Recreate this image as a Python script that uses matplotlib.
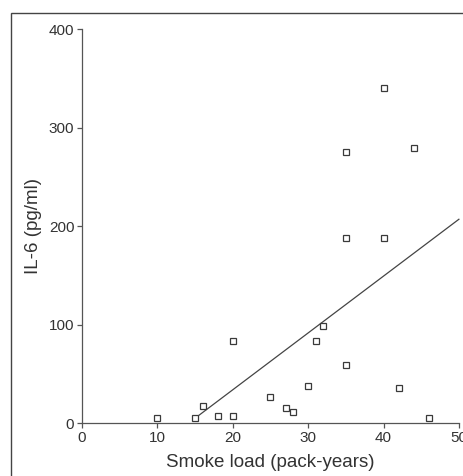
import numpy as np
import matplotlib
matplotlib.use("Agg")
import matplotlib.pyplot as plt
from matplotlib.patches import Rectangle

# smoke load (pack-years) vs IL-6 (pg/ml)
smoke_load = [10, 15, 16, 18, 20, 20, 25, 27, 28, 30, 31, 32, 35, 35, 35, 40, 40, 42, 44, 46]
il6 = [5, 5, 17, 7, 83, 7, 26, 15, 11.5, 38, 83, 98, 59, 188, 275, 340, 188, 36, 279, 5]
x_ticks = [0, 10, 20, 30, 40, 50]
y_ticks = [0, 100, 200, 300, 400]
fit_range = [15, 50]

plt.rcParams['font.family'] = ['Liberation Sans', 'DejaVu Sans']
ink = '#333333'

fig = plt.figure(figsize=(4.64, 4.76), dpi=100)
ax = fig.add_axes([0.1767, 0.1113, 0.8123, 0.8277])

# frame around the panel (right and bottom edges are cut off)
fig.patches.append(Rectangle((11 / 464, -0.1), 1.2, 1 - 13 / 476 + 0.1,
                             transform=fig.transFigure, fill=False,
                             edgecolor='#444444', linewidth=1.0))

ax.plot(smoke_load, il6, 's', markersize=4.3, markerfacecolor='white',
        markeredgecolor='#3a3a3a', markeredgewidth=0.9, clip_on=False, zorder=3)

slope, intercept = np.polyfit(smoke_load, il6, 1)
xs = np.array(fit_range)
ax.plot(xs, slope * xs + intercept, color='#444444', linewidth=0.9, clip_on=False)

ax.set_xlim(0, 50)
ax.set_ylim(0, 400)
ax.set_xticks(x_ticks)
ax.set_yticks(y_ticks)
for s in ['top', 'right']:
    ax.spines[s].set_visible(False)
for s in ['left', 'bottom']:
    ax.spines[s].set_color('#555555')
    ax.spines[s].set_linewidth(0.9)
ax.tick_params(direction='out', length=3.5, width=0.9, color='#555555',
               labelsize=11, labelcolor=ink, pad=2)
for lbl in ax.get_xticklabels():
    lbl.set_clip_on(False)

ax.set_xlabel('Smoke load (pack-years)', fontsize=13.5, color=ink, labelpad=7)
ax.set_ylabel('IL-6 (pg/ml)', fontsize=13.5, color=ink, labelpad=5)

fig.savefig('out.png', dpi=100)
